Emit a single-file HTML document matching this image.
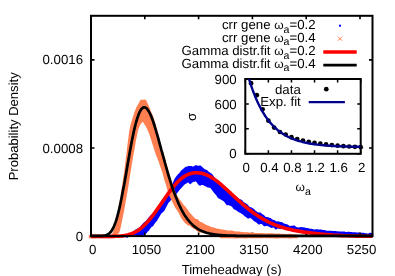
<!DOCTYPE html>
<html><head><meta charset="utf-8"><title>chart</title>
<style>html,body{margin:0;padding:0;background:#fff;overflow:hidden}svg{font-family:"Liberation Sans",sans-serif;will-change:transform}text{text-rendering:geometricPrecision}</style></head>
<body>
<svg width="395" height="276" viewBox="0 0 395 276" style="display:block" font-family="'Liberation Sans', sans-serif" font-size="13.25">
<rect width="395" height="276" fill="#fff"/>
<path d="M122.0,234.7 L122.8,235.2 L123.6,235.5 L124.4,235.3 L125.2,234.8 L126.0,234.5 L126.8,234.7 L127.6,234.9 L128.4,234.5 L129.2,233.7 L130.0,233.3 L130.8,233.3 L131.6,232.9 L132.4,232.4 L133.2,231.3 L134.0,230.7 L134.8,230.3 L135.6,229.6 L136.4,229.3 L137.2,228.8 L138.0,228.3 L138.8,227.7 L139.6,227.2 L140.4,226.3 L141.2,225.5 L142.0,224.4 L142.8,223.5 L143.6,222.8 L144.4,222.0 L145.2,221.4 L146.0,220.7 L146.8,219.9 L147.6,218.8 L148.4,217.8 L149.2,216.7 L150.0,216.0 L150.8,215.0 L151.6,214.6 L152.4,214.1 L153.2,212.8 L154.0,211.8 L154.8,210.3 L155.6,209.3 L156.4,208.6 L157.2,207.2 L158.0,206.1 L158.8,204.9 L159.6,204.1 L160.4,203.3 L161.2,202.2 L162.0,200.9 L162.8,199.6 L163.6,198.4 L164.4,197.4 L165.2,196.7 L166.0,196.2 L166.8,195.4 L167.6,194.1 L168.4,192.7 L169.2,190.9 L170.0,189.2 L170.8,187.6 L171.6,185.8 L172.4,184.0 L173.2,182.0 L174.0,180.1 L174.8,178.6 L175.6,177.3 L176.4,176.2 L177.2,175.2 L178.0,174.3 L178.8,173.6 L179.6,172.7 L180.4,171.6 L181.2,170.6 L182.0,169.7 L182.8,169.3 L183.6,168.6 L184.4,167.8 L185.2,167.2 L186.0,166.8 L186.8,166.5 L187.6,166.4 L188.4,166.1 L189.2,166.0 L190.0,166.1 L190.8,166.0 L191.6,166.1 L192.4,166.4 L193.2,166.4 L194.0,166.2 L194.8,165.6 L195.6,165.2 L196.4,165.3 L197.2,165.6 L198.0,165.8 L198.8,165.7 L199.6,165.6 L200.4,165.5 L201.2,166.0 L202.0,166.7 L202.8,167.4 L203.6,168.3 L204.4,169.0 L205.2,169.3 L206.0,169.7 L206.8,170.1 L207.6,170.6 L208.4,171.5 L209.2,171.9 L210.0,172.5 L210.8,173.2 L211.6,173.6 L212.4,174.4 L213.2,175.6 L214.0,176.7 L214.8,177.8 L215.6,179.0 L216.4,179.7 L217.2,180.5 L218.0,181.0 L218.8,181.3 L219.6,182.0 L220.4,182.6 L221.2,183.5 L222.0,184.4 L222.8,185.2 L223.6,186.0 L224.4,186.7 L225.2,187.7 L226.0,188.4 L226.8,189.1 L227.6,190.0 L228.4,190.7 L229.2,191.3 L230.0,191.9 L230.8,192.0 L231.6,192.4 L232.4,193.1 L233.2,193.8 L234.0,195.0 L234.8,195.8 L235.6,195.9 L236.4,196.5 L237.2,197.3 L238.0,197.9 L238.8,198.8 L239.6,199.1 L240.4,199.3 L241.2,199.7 L242.0,199.9 L242.8,200.9 L243.6,201.9 L244.4,202.5 L245.2,203.0 L246.0,203.3 L246.8,203.9 L247.6,204.5 L248.4,205.4 L249.2,206.4 L250.0,207.0 L250.8,207.2 L251.6,207.5 L252.4,207.9 L253.2,208.6 L254.0,208.9 L254.8,209.7 L255.6,210.7 L256.4,211.3 L257.2,212.0 L258.0,212.3 L258.8,212.4 L259.6,212.6 L260.4,212.6 L261.2,213.0 L262.0,213.9 L262.8,214.4 L263.6,214.8 L264.4,215.4 L265.2,216.4 L266.0,216.9 L266.8,216.9 L267.6,217.2 L268.4,217.3 L269.2,217.7 L270.0,218.0 L270.8,218.1 L271.6,218.9 L272.4,219.6 L273.2,219.8 L274.0,220.0 L274.8,220.2 L275.6,220.9 L276.4,221.5 L277.2,221.5 L278.0,221.3 L278.8,221.4 L279.6,221.8 L280.4,222.0 L281.2,222.0 L282.0,222.0 L282.8,222.7 L283.6,223.3 L284.4,223.6 L285.2,223.9 L286.0,223.9 L286.8,224.2 L287.6,224.5 L288.4,225.0 L289.2,225.7 L290.0,225.9 L290.8,225.8 L291.6,225.7 L292.4,225.7 L293.2,225.5 L294.0,225.4 L294.8,225.6 L295.6,226.4 L296.4,226.9 L297.2,227.3 L298.0,227.5 L298.8,227.3 L299.6,227.6 L300.4,227.0 L301.2,227.0 L302.0,227.2 L302.8,227.2 L303.6,227.3 L304.4,227.4 L305.2,227.6 L306.0,227.9 L306.8,228.0 L307.6,228.0 L308.4,228.2 L309.2,228.5 L310.0,228.7 L310.8,228.8 L311.6,228.8 L312.4,229.0 L313.2,229.2 L314.0,229.4 L314.8,229.5 L315.6,229.3 L316.4,229.3 L317.2,229.3 L318.0,229.5 L318.8,229.6 L319.6,229.6 L320.4,229.5 L321.2,229.6 L322.0,229.8 L322.8,229.9 L323.6,230.0 L324.4,230.1 L325.2,230.3 L326.0,230.5 L326.8,230.7 L327.6,230.8 L328.4,230.8 L329.2,230.7 L330.0,230.7 L330.8,230.7 L331.6,230.8 L332.4,231.0 L333.2,231.0 L334.0,230.9 L334.8,230.9 L335.6,230.9 L336.4,231.2 L337.2,231.2 L338.0,231.3 L338.8,231.5 L339.6,231.5 L340.4,231.6 L341.2,231.5 L342.0,231.5 L342.8,231.5 L343.6,231.5 L344.4,231.6 L345.2,231.7 L346.0,231.9 L346.8,232.0 L347.6,231.7 L348.4,231.7 L349.2,231.8 L350.0,231.9 L350.8,232.1 L351.6,232.0 L352.4,232.2 L353.2,232.2 L354.0,232.2 L354.8,232.2 L355.6,232.2 L356.4,232.4 L357.2,232.5 L358.0,232.5 L358.8,232.5 L359.6,232.5 L360.4,232.7 L361.2,232.8 L362.0,232.8 L362.8,232.8 L363.6,232.8 L364.4,232.9 L365.2,233.1 L366.0,233.2 L366.8,233.4 L367.6,233.4 L368.4,233.4 L369.2,233.1 L370.0,232.8 L370.8,232.8 L371.6,232.9 L372.4,233.0 L373.2,233.1 L373.2,236.3 L372.4,236.3 L371.6,236.3 L370.8,236.4 L370.0,236.4 L369.2,236.4 L368.4,236.5 L367.6,236.6 L366.8,236.5 L366.0,236.5 L365.2,236.4 L364.4,236.4 L363.6,236.4 L362.8,236.3 L362.0,236.2 L361.2,236.2 L360.4,236.1 L359.6,236.2 L358.8,236.3 L358.0,236.3 L357.2,236.3 L356.4,236.2 L355.6,236.0 L354.8,235.8 L354.0,235.8 L353.2,235.9 L352.4,235.9 L351.6,236.0 L350.8,236.0 L350.0,236.1 L349.2,236.1 L348.4,236.2 L347.6,236.3 L346.8,236.2 L346.0,236.1 L345.2,236.0 L344.4,236.1 L343.6,236.1 L342.8,236.1 L342.0,236.1 L341.2,236.0 L340.4,235.9 L339.6,235.9 L338.8,236.0 L338.0,236.0 L337.2,235.9 L336.4,235.8 L335.6,235.8 L334.8,235.9 L334.0,235.8 L333.2,235.7 L332.4,235.6 L331.6,235.6 L330.8,235.5 L330.0,235.7 L329.2,235.5 L328.4,235.5 L327.6,235.4 L326.8,235.4 L326.0,235.4 L325.2,235.4 L324.4,235.2 L323.6,235.1 L322.8,234.9 L322.0,234.8 L321.2,234.8 L320.4,234.9 L319.6,234.9 L318.8,234.8 L318.0,234.7 L317.2,234.7 L316.4,234.7 L315.6,234.8 L314.8,234.8 L314.0,234.7 L313.2,234.5 L312.4,234.3 L311.6,234.2 L310.8,234.2 L310.0,234.3 L309.2,234.2 L308.4,234.0 L307.6,233.7 L306.8,233.4 L306.0,233.3 L305.2,233.2 L304.4,233.2 L303.6,233.2 L302.8,233.3 L302.0,233.2 L301.2,233.0 L300.4,232.8 L299.6,232.5 L298.8,232.4 L298.0,232.3 L297.2,232.2 L296.4,232.1 L295.6,231.9 L294.8,231.7 L294.0,231.6 L293.2,231.6 L292.4,231.6 L291.6,231.3 L290.8,231.0 L290.0,230.5 L289.2,229.9 L288.4,229.9 L287.6,230.0 L286.8,229.6 L286.0,229.7 L285.2,229.5 L284.4,229.0 L283.6,228.1 L282.8,227.6 L282.0,227.9 L281.2,228.5 L280.4,229.2 L279.6,229.0 L278.8,228.7 L278.0,228.6 L277.2,228.8 L276.4,229.6 L275.6,229.4 L274.8,228.7 L274.0,227.7 L273.2,227.4 L272.4,227.8 L271.6,227.9 L270.8,227.8 L270.0,227.2 L269.2,226.8 L268.4,226.5 L267.6,226.1 L266.8,225.9 L266.0,225.9 L265.2,226.3 L264.4,226.3 L263.6,226.0 L262.8,225.1 L262.0,224.3 L261.2,223.9 L260.4,224.0 L259.6,224.4 L258.8,224.4 L258.0,224.2 L257.2,223.3 L256.4,222.4 L255.6,222.1 L254.8,221.7 L254.0,221.0 L253.2,220.6 L252.4,219.5 L251.6,219.0 L250.8,218.3 L250.0,217.8 L249.2,218.6 L248.4,218.6 L247.6,218.4 L246.8,217.8 L246.0,217.1 L245.2,216.8 L244.4,216.1 L243.6,215.2 L242.8,214.6 L242.0,213.9 L241.2,213.5 L240.4,212.9 L239.6,212.4 L238.8,212.2 L238.0,211.7 L237.2,211.0 L236.4,210.4 L235.6,209.9 L234.8,209.5 L234.0,209.4 L233.2,208.5 L232.4,207.2 L231.6,206.6 L230.8,205.9 L230.0,205.7 L229.2,205.5 L228.4,205.0 L227.6,205.2 L226.8,205.2 L226.0,204.2 L225.2,203.3 L224.4,201.9 L223.6,201.2 L222.8,200.7 L222.0,200.2 L221.2,199.8 L220.4,199.2 L219.6,199.1 L218.8,198.4 L218.0,197.9 L217.2,196.9 L216.4,195.6 L215.6,194.6 L214.8,193.7 L214.0,192.8 L213.2,191.8 L212.4,190.8 L211.6,189.6 L210.8,188.4 L210.0,187.8 L209.2,187.7 L208.4,187.6 L207.6,187.6 L206.8,187.0 L206.0,186.5 L205.2,186.2 L204.4,185.9 L203.6,185.3 L202.8,185.0 L202.0,184.9 L201.2,185.0 L200.4,185.7 L199.6,185.6 L198.8,185.3 L198.0,184.2 L197.2,182.9 L196.4,181.9 L195.6,181.3 L194.8,181.7 L194.0,181.7 L193.2,182.1 L192.4,182.4 L191.6,183.1 L190.8,184.2 L190.0,184.1 L189.2,183.4 L188.4,182.8 L187.6,182.6 L186.8,183.3 L186.0,183.8 L185.2,184.0 L184.4,184.7 L183.6,185.6 L182.8,186.6 L182.0,187.3 L181.2,188.3 L180.4,189.1 L179.6,190.0 L178.8,191.1 L178.0,192.1 L177.2,193.1 L176.4,194.1 L175.6,194.9 L174.8,195.7 L174.0,196.9 L173.2,197.7 L172.4,198.6 L171.6,199.6 L170.8,200.3 L170.0,201.4 L169.2,202.0 L168.4,203.0 L167.6,204.4 L166.8,206.0 L166.0,207.6 L165.2,209.3 L164.4,210.7 L163.6,211.6 L162.8,212.5 L162.0,212.8 L161.2,213.8 L160.4,215.0 L159.6,216.4 L158.8,217.8 L158.0,218.9 L157.2,220.5 L156.4,221.5 L155.6,222.3 L154.8,223.4 L154.0,224.4 L153.2,225.9 L152.4,226.4 L151.6,226.9 L150.8,227.8 L150.0,229.0 L149.2,230.3 L148.4,231.1 L147.6,231.8 L146.8,233.0 L146.0,233.7 L145.2,234.3 L144.4,234.6 L143.6,235.0 L142.8,235.9 L142.0,236.5 L141.2,236.6 L140.4,236.5 L139.6,236.5 L138.8,236.4 L138.0,236.3 L137.2,235.9 L136.4,235.3 L135.6,235.2 L134.8,235.1 L134.0,235.3 L133.2,235.7 L132.4,235.9 L131.6,236.4 L130.8,236.2 L130.0,236.4 L129.2,236.5 L128.4,237.0 L127.6,237.7 L126.8,237.5 L126.0,237.5 L125.2,237.1 L124.4,236.9 L123.6,237.2 L122.8,237.5 L122.0,237.6Z" fill="#0000ff"/>
<path d="M91.00,236.1 v-3.5 M91.00,15.8 v3.5 M144.80,236.1 v-3.5 M144.80,15.8 v3.5 M198.60,236.1 v-3.5 M198.60,15.8 v3.5 M252.40,236.1 v-3.5 M252.40,15.8 v3.5 M306.20,236.1 v-3.5 M306.20,15.8 v3.5 M360.00,236.1 v-3.5 M360.00,15.8 v3.5 M91.0,148.00 h3.5 M372.5,148.00 h-3.5 M91.0,59.90 h3.5 M372.5,59.90 h-3.5" stroke="#000" stroke-width="1.6" fill="none"/>
<path d="M88.8,234.9 L89.6,235.0 L90.4,235.0 L91.2,235.1 L92.0,235.1 L92.8,235.0 L93.6,235.0 L94.4,234.8 L95.2,234.8 L96.0,234.9 L96.8,235.1 L97.6,235.3 L98.4,235.3 L99.2,235.2 L100.0,235.1 L100.8,235.0 L101.6,235.1 L102.4,235.1 L103.2,235.1 L104.0,235.0 L104.8,235.0 L105.6,235.1 L106.4,235.1 L107.2,235.1 L108.0,235.0 L108.8,235.0 L109.6,235.0 L110.4,235.0 L111.2,234.9 L112.0,234.2 L112.8,232.4 L113.6,230.7 L114.4,228.8 L115.2,226.2 L116.0,223.0 L116.8,219.2 L117.6,214.2 L118.4,208.8 L119.2,203.7 L120.0,198.9 L120.8,194.0 L121.6,188.8 L122.4,183.4 L123.2,178.0 L124.0,172.7 L124.8,166.7 L125.6,160.3 L126.4,153.9 L127.2,147.0 L128.0,140.4 L128.8,134.2 L129.6,129.1 L130.4,125.3 L131.2,122.5 L132.0,119.9 L132.8,117.5 L133.6,114.9 L134.4,112.3 L135.2,110.5 L136.0,108.0 L136.8,106.6 L137.6,105.2 L138.4,103.8 L139.2,102.4 L140.0,100.5 L140.8,99.8 L141.6,99.7 L142.4,99.7 L143.2,99.8 L144.0,99.6 L144.8,99.5 L145.6,99.7 L146.4,100.6 L147.2,102.7 L148.0,104.3 L148.8,106.0 L149.6,107.7 L150.4,109.9 L151.2,111.9 L152.0,113.7 L152.8,115.4 L153.6,117.5 L154.4,120.2 L155.2,122.7 L156.0,125.7 L156.8,129.0 L157.6,132.0 L158.4,135.2 L159.2,138.4 L160.0,141.7 L160.8,144.8 L161.6,147.9 L162.4,150.4 L163.2,152.7 L164.0,155.4 L164.8,157.9 L165.6,160.9 L166.4,163.7 L167.2,166.1 L168.0,168.9 L168.8,171.6 L169.6,174.5 L170.4,177.7 L171.2,180.6 L172.0,183.1 L172.8,185.3 L173.6,187.1 L174.4,189.1 L175.2,191.4 L176.0,193.8 L176.8,195.3 L177.6,196.8 L178.4,197.6 L179.2,198.9 L180.0,199.9 L180.8,200.7 L181.6,202.1 L182.4,203.0 L183.2,204.2 L184.0,205.3 L184.8,206.0 L185.6,206.7 L186.4,208.0 L187.2,208.9 L188.0,210.3 L188.8,211.6 L189.6,212.5 L190.4,213.5 L191.2,214.3 L192.0,215.0 L192.8,216.0 L193.6,217.0 L194.4,217.8 L195.2,218.5 L196.0,218.9 L196.8,219.1 L197.6,219.3 L198.4,219.8 L199.2,220.9 L200.0,221.8 L200.8,221.9 L201.6,222.2 L202.4,222.6 L203.2,223.1 L204.0,223.7 L204.8,224.1 L205.6,224.6 L206.4,224.9 L207.2,225.2 L208.0,225.4 L208.8,225.7 L209.6,226.2 L210.4,226.6 L211.2,227.0 L212.0,227.2 L212.8,227.3 L213.6,227.5 L214.4,227.7 L215.2,227.9 L216.0,228.2 L216.8,228.4 L217.6,228.7 L218.4,228.8 L219.2,229.0 L220.0,229.2 L220.8,229.3 L221.6,229.4 L222.4,229.4 L223.2,229.6 L224.0,229.8 L224.8,229.9 L225.6,230.0 L226.4,230.2 L227.2,230.4 L228.0,230.5 L228.8,230.6 L229.6,230.6 L230.4,230.6 L231.2,230.5 L232.0,230.6 L232.8,230.8 L233.6,231.1 L234.4,231.3 L235.2,231.3 L236.0,231.5 L236.8,231.5 L237.6,231.6 L238.4,231.5 L239.2,231.6 L240.0,231.7 L240.8,231.8 L241.6,232.0 L242.4,232.0 L243.2,232.1 L244.0,232.2 L244.8,232.2 L245.6,232.3 L246.4,232.2 L247.2,232.3 L248.0,232.3 L248.8,232.4 L249.6,232.4 L250.4,232.5 L251.2,232.5 L252.0,232.5 L252.8,232.6 L253.6,232.7 L254.4,232.8 L255.2,232.9 L256.0,232.9 L256.8,232.9 L257.6,232.9 L258.4,232.9 L259.2,232.9 L260.0,233.0 L260.8,233.1 L261.6,233.1 L262.4,233.1 L263.2,233.2 L264.0,233.2 L264.8,233.3 L265.6,233.5 L266.4,233.4 L267.2,233.3 L268.0,233.2 L268.8,233.2 L269.6,233.2 L270.4,233.3 L271.2,233.3 L272.0,233.3 L272.8,233.3 L273.6,233.4 L274.4,233.6 L275.2,233.6 L276.0,233.5 L276.8,233.4 L277.6,233.5 L278.4,233.5 L279.2,233.6 L280.0,233.7 L280.8,233.8 L281.6,233.9 L282.4,233.8 L283.2,233.8 L284.0,233.8 L284.8,233.9 L285.6,234.1 L286.4,234.1 L287.2,234.0 L288.0,233.9 L288.8,233.8 L289.6,233.8 L290.4,233.7 L291.2,233.9 L292.0,234.2 L292.8,234.3 L293.6,234.4 L294.4,234.4 L295.2,234.5 L296.0,234.7 L296.8,234.8 L297.6,234.9 L297.6,238.4 L296.8,238.2 L296.0,238.2 L295.2,238.2 L294.4,238.2 L293.6,238.2 L292.8,238.2 L292.0,238.3 L291.2,238.4 L290.4,238.5 L289.6,238.4 L288.8,238.4 L288.0,238.3 L287.2,238.2 L286.4,238.2 L285.6,238.2 L284.8,238.2 L284.0,238.2 L283.2,238.2 L282.4,238.2 L281.6,238.2 L280.8,238.2 L280.0,238.2 L279.2,238.2 L278.4,238.3 L277.6,238.4 L276.8,238.5 L276.0,238.5 L275.2,238.4 L274.4,238.3 L273.6,238.3 L272.8,238.2 L272.0,238.2 L271.2,238.2 L270.4,238.2 L269.6,238.2 L268.8,238.2 L268.0,238.3 L267.2,238.3 L266.4,238.2 L265.6,238.2 L264.8,238.1 L264.0,238.1 L263.2,238.2 L262.4,238.2 L261.6,238.2 L260.8,238.2 L260.0,238.3 L259.2,238.3 L258.4,238.3 L257.6,238.2 L256.8,238.2 L256.0,238.2 L255.2,238.2 L254.4,238.3 L253.6,238.2 L252.8,238.2 L252.0,238.2 L251.2,238.2 L250.4,238.2 L249.6,238.2 L248.8,238.1 L248.0,238.2 L247.2,238.3 L246.4,238.5 L245.6,238.5 L244.8,238.4 L244.0,238.3 L243.2,238.3 L242.4,238.3 L241.6,238.3 L240.8,238.3 L240.0,238.3 L239.2,238.3 L238.4,238.3 L237.6,238.3 L236.8,238.4 L236.0,238.4 L235.2,238.4 L234.4,238.4 L233.6,238.3 L232.8,238.3 L232.0,238.3 L231.2,238.3 L230.4,238.3 L229.6,238.3 L228.8,238.3 L228.0,238.3 L227.2,238.3 L226.4,238.2 L225.6,238.2 L224.8,238.3 L224.0,238.2 L223.2,238.3 L222.4,238.3 L221.6,238.2 L220.8,238.1 L220.0,237.7 L219.2,237.3 L218.4,236.9 L217.6,236.5 L216.8,236.2 L216.0,235.9 L215.2,235.6 L214.4,235.4 L213.6,235.3 L212.8,235.1 L212.0,235.0 L211.2,234.8 L210.4,234.5 L209.6,234.3 L208.8,234.0 L208.0,233.9 L207.2,233.8 L206.4,233.7 L205.6,233.6 L204.8,233.5 L204.0,233.3 L203.2,233.0 L202.4,232.8 L201.6,232.6 L200.8,232.5 L200.0,232.9 L199.2,232.6 L198.4,232.2 L197.6,231.5 L196.8,231.0 L196.0,230.2 L195.2,229.5 L194.4,228.9 L193.6,228.5 L192.8,228.3 L192.0,227.9 L191.2,226.9 L190.4,226.1 L189.6,225.7 L188.8,225.6 L188.0,225.4 L187.2,224.7 L186.4,224.0 L185.6,223.4 L184.8,222.7 L184.0,221.7 L183.2,220.8 L182.4,219.7 L181.6,218.6 L180.8,217.2 L180.0,215.5 L179.2,213.9 L178.4,212.4 L177.6,211.2 L176.8,209.9 L176.0,208.9 L175.2,207.7 L174.4,206.2 L173.6,204.6 L172.8,202.8 L172.0,201.3 L171.2,199.6 L170.4,197.9 L169.6,196.2 L168.8,194.3 L168.0,192.0 L167.2,189.2 L166.4,186.3 L165.6,183.7 L164.8,181.5 L164.0,178.7 L163.2,175.7 L162.4,172.6 L161.6,170.2 L160.8,167.9 L160.0,165.8 L159.2,163.4 L158.4,161.0 L157.6,159.1 L156.8,157.0 L156.0,155.1 L155.2,152.7 L154.4,150.3 L153.6,147.6 L152.8,145.2 L152.0,142.7 L151.2,140.0 L150.4,137.6 L149.6,135.3 L148.8,133.1 L148.0,131.0 L147.2,129.2 L146.4,127.4 L145.6,126.1 L144.8,125.0 L144.0,123.6 L143.2,122.3 L142.4,122.0 L141.6,123.0 L140.8,124.0 L140.0,125.3 L139.2,127.0 L138.4,129.3 L137.6,132.6 L136.8,136.4 L136.0,140.6 L135.2,145.0 L134.4,149.5 L133.6,153.9 L132.8,158.4 L132.0,163.0 L131.2,168.2 L130.4,173.3 L129.6,178.6 L128.8,183.8 L128.0,188.6 L127.2,193.3 L126.4,197.8 L125.6,202.2 L124.8,206.7 L124.0,211.3 L123.2,215.3 L122.4,219.1 L121.6,223.0 L120.8,226.9 L120.0,230.3 L119.2,232.4 L118.4,233.4 L117.6,234.6 L116.8,235.9 L116.0,237.1 L115.2,237.9 L114.4,238.3 L113.6,238.2 L112.8,238.2 L112.0,238.2 L111.2,238.2 L110.4,238.2 L109.6,238.3 L108.8,238.3 L108.0,238.3 L107.2,238.2 L106.4,238.2 L105.6,238.3 L104.8,238.3 L104.0,238.3 L103.2,238.3 L102.4,238.3 L101.6,238.3 L100.8,238.3 L100.0,238.2 L99.2,238.1 L98.4,238.1 L97.6,238.1 L96.8,238.1 L96.0,238.2 L95.2,238.2 L94.4,238.2 L93.6,238.2 L92.8,238.2 L92.0,238.2 L91.2,238.2 L90.4,238.2 L89.6,238.2 L88.8,238.2Z" fill="#ff7f50"/>
<clipPath id="c"><rect x="88.0" y="15.8" width="285.3" height="223.29999999999998"/></clipPath>
<g clip-path="url(#c)">
<path d="M91.0,236.4 L91.7,236.4 L92.4,236.4 L93.1,236.4 L93.8,236.4 L94.5,236.4 L95.2,236.4 L95.9,236.4 L96.6,236.4 L97.3,236.4 L98.1,236.4 L98.8,236.4 L99.5,236.4 L100.2,236.4 L100.9,236.4 L101.6,236.4 L102.3,236.4 L103.0,236.4 L103.7,236.4 L104.4,236.4 L105.1,236.4 L105.8,236.4 L106.5,236.4 L107.2,236.4 L107.9,236.4 L108.6,236.4 L109.3,236.4 L110.0,236.4 L110.8,236.4 L111.5,236.4 L112.2,236.4 L112.9,236.4 L113.6,236.3 L114.3,236.3 L115.0,236.3 L115.7,236.3 L116.4,236.3 L117.1,236.2 L117.8,236.2 L118.5,236.2 L119.2,236.1 L119.9,236.1 L120.6,236.0 L121.3,236.0 L122.0,235.9 L122.7,235.8 L123.5,235.7 L124.2,235.6 L124.9,235.5 L125.6,235.4 L126.3,235.2 L127.0,235.1 L127.7,234.9 L128.4,234.7 L129.1,234.5 L129.8,234.3 L130.5,234.1 L131.2,233.8 L131.9,233.6 L132.6,233.3 L133.3,233.0 L134.0,232.7 L134.7,232.3 L135.4,231.9 L136.2,231.5 L136.9,231.1 L137.6,230.7 L138.3,230.2 L139.0,229.7 L139.7,229.2 L140.4,228.7 L141.1,228.1 L141.8,227.5 L142.5,226.9 L143.2,226.3 L143.9,225.6 L144.6,224.9 L145.3,224.2 L146.0,223.5 L146.7,222.7 L147.4,222.0 L148.1,221.2 L148.9,220.4 L149.6,219.5 L150.3,218.7 L151.0,217.8 L151.7,216.9 L152.4,216.0 L153.1,215.1 L153.8,214.1 L154.5,213.2 L155.2,212.2 L155.9,211.2 L156.6,210.2 L157.3,209.3 L158.0,208.2 L158.7,207.2 L159.4,206.2 L160.1,205.2 L160.8,204.2 L161.6,203.1 L162.3,202.1 L163.0,201.1 L163.7,200.0 L164.4,199.0 L165.1,198.0 L165.8,197.0 L166.5,196.0 L167.2,195.0 L167.9,194.0 L168.6,193.0 L169.3,192.0 L170.0,191.1 L170.7,190.2 L171.4,189.2 L172.1,188.3 L172.8,187.4 L173.5,186.6 L174.3,185.7 L175.0,184.9 L175.7,184.1 L176.4,183.3 L177.1,182.6 L177.8,181.8 L178.5,181.1 L179.2,180.5 L179.9,179.8 L180.6,179.2 L181.3,178.6 L182.0,178.0 L182.7,177.5 L183.4,177.0 L184.1,176.5 L184.8,176.1 L185.5,175.7 L186.2,175.3 L186.9,174.9 L187.7,174.6 L188.4,174.3 L189.1,174.0 L189.8,173.8 L190.5,173.5 L191.2,173.4 L191.9,173.2 L192.6,173.1 L193.3,172.9 L194.0,172.9 L194.7,172.8 L195.4,172.7 L196.1,172.7 L196.8,172.7 L197.5,172.8 L198.2,172.8 L198.9,172.9 L199.6,173.0 L200.4,173.1 L201.1,173.2 L201.8,173.3 L202.5,173.5 L203.2,173.7 L203.9,173.9 L204.6,174.1 L205.3,174.4 L206.0,174.7 L206.7,175.0 L207.4,175.3 L208.1,175.6 L208.8,175.9 L209.5,176.3 L210.2,176.7 L210.9,177.1 L211.6,177.5 L212.3,178.0 L213.1,178.4 L213.8,178.9 L214.5,179.4 L215.2,179.9 L215.9,180.4 L216.6,180.9 L217.3,181.5 L218.0,182.0 L218.7,182.6 L219.4,183.2 L220.1,183.7 L220.8,184.3 L221.5,184.9 L222.2,185.6 L222.9,186.2 L223.6,186.8 L224.3,187.4 L225.0,188.1 L225.8,188.7 L226.5,189.4 L227.2,190.0 L227.9,190.7 L228.6,191.3 L229.3,192.0 L230.0,192.6 L230.7,193.3 L231.4,194.0 L232.1,194.6 L232.8,195.3 L233.5,195.9 L234.2,196.6 L234.9,197.2 L235.6,197.9 L236.3,198.5 L237.0,199.2 L237.7,199.8 L238.5,200.5 L239.2,201.1 L239.9,201.7 L240.6,202.4 L241.3,203.0 L242.0,203.6 L242.7,204.2 L243.4,204.8 L244.1,205.4 L244.8,206.0 L245.5,206.6 L246.2,207.2 L246.9,207.8 L247.6,208.3 L248.3,208.9 L249.0,209.5 L249.7,210.0 L250.4,210.6 L251.2,211.1 L251.9,211.6 L252.6,212.2 L253.3,212.7 L254.0,213.2 L254.7,213.7 L255.4,214.2 L256.1,214.7 L256.8,215.1 L257.5,215.6 L258.2,216.1 L258.9,216.5 L259.6,217.0 L260.3,217.4 L261.0,217.8 L261.7,218.3 L262.4,218.7 L263.1,219.1 L263.9,219.5 L264.6,219.9 L265.3,220.3 L266.0,220.7 L266.7,221.0 L267.4,221.4 L268.1,221.7 L268.8,222.1 L269.5,222.4 L270.2,222.8 L270.9,223.1 L271.6,223.4 L272.3,223.7 L273.0,224.0 L273.7,224.3 L274.4,224.6 L275.1,224.9 L275.8,225.2 L276.6,225.4 L277.3,225.7 L278.0,225.9 L278.7,226.2 L279.4,226.4 L280.1,226.7 L280.8,226.9 L281.5,227.1 L282.2,227.4 L282.9,227.6 L283.6,227.8 L284.3,228.0 L285.0,228.2 L285.7,228.4 L286.4,228.6 L287.1,228.7 L287.8,228.9 L288.5,229.1 L289.2,229.3 L290.0,229.4 L290.7,229.6 L291.4,229.8 L292.1,229.9 L292.8,230.1 L293.5,230.2 L294.2,230.4 L294.9,230.5 L295.6,230.6 L296.3,230.8 L297.0,230.9 L297.7,231.0 L298.4,231.1 L299.1,231.3 L299.8,231.4 L300.5,231.5 L301.2,231.6 L301.9,231.7 L302.7,231.8 L303.4,232.0 L304.1,232.1 L304.8,232.2 L305.5,232.3 L306.2,232.4 L306.9,232.5 L307.6,232.6 L308.3,232.6 L309.0,232.7 L309.7,232.8 L310.4,232.9 L311.1,233.0 L311.8,233.1 L312.5,233.2 L313.2,233.3 L313.9,233.3 L314.6,233.4 L315.4,233.5 L316.1,233.6 L316.8,233.7 L317.5,233.7 L318.2,233.8 L318.9,233.9 L319.6,234.0 L320.3,234.0 L321.0,234.1 L321.7,234.2 L322.4,234.2 L323.1,234.3 L323.8,234.4 L324.5,234.4 L325.2,234.5 L325.9,234.5 L326.6,234.6 L327.3,234.7 L328.1,234.7 L328.8,234.8 L329.5,234.8 L330.2,234.9 L330.9,234.9 L331.6,235.0 L332.3,235.0 L333.0,235.1 L333.7,235.1 L334.4,235.2 L335.1,235.2 L335.8,235.3 L336.5,235.3 L337.2,235.4 L337.9,235.4 L338.6,235.4 L339.3,235.5 L340.0,235.5 L340.8,235.5 L341.5,235.6 L342.2,235.6 L342.9,235.6 L343.6,235.7 L344.3,235.7 L345.0,235.7 L345.7,235.8 L346.4,235.8 L347.1,235.8 L347.8,235.8 L348.5,235.9 L349.2,235.9 L349.9,235.9 L350.6,235.9 L351.3,235.9 L352.0,236.0 L352.7,236.0 L353.5,236.0 L354.2,236.0 L354.9,236.0 L355.6,236.1 L356.3,236.1 L357.0,236.1 L357.7,236.1 L358.4,236.1 L359.1,236.1 L359.8,236.1 L360.5,236.1 L361.2,236.2 L361.9,236.2 L362.6,236.2 L363.3,236.2 L364.0,236.2 L364.7,236.2 L365.4,236.2 L366.2,236.2 L366.9,236.2 L367.6,236.2 L368.3,236.2 L369.0,236.3 L369.7,236.3 L370.4,236.3 L371.1,236.3 L371.8,236.3 L372.5,236.3" fill="none" stroke="#ff0000" stroke-width="3.6" stroke-linejoin="round"/>
<path d="M91.6,235.9 L92.3,235.9 L93.0,235.9 L93.7,235.9 L94.4,235.9 L95.1,235.9 L95.8,235.9 L96.5,235.9 L97.2,235.9 L97.9,235.9 L98.7,235.9 L99.4,235.9 L100.1,235.9 L100.8,235.9 L101.5,235.9 L102.2,235.8 L102.9,235.8 L103.6,235.7 L104.3,235.6 L105.0,235.5 L105.7,235.3 L106.4,235.1 L107.1,234.8 L107.8,234.4 L108.5,234.0 L109.2,233.4 L109.9,232.8 L110.6,232.0 L111.4,231.1 L112.1,230.0 L112.8,228.8 L113.5,227.4 L114.2,225.8 L114.9,224.0 L115.6,222.1 L116.3,220.0 L117.0,217.6 L117.7,215.1 L118.4,212.4 L119.1,209.5 L119.8,206.4 L120.5,203.2 L121.2,199.8 L121.9,196.3 L122.6,192.6 L123.3,188.8 L124.1,185.0 L124.8,181.0 L125.5,177.0 L126.2,172.9 L126.9,168.8 L127.6,164.8 L128.3,160.7 L129.0,156.7 L129.7,152.7 L130.4,148.8 L131.1,145.0 L131.8,141.3 L132.5,137.8 L133.2,134.4 L133.9,131.1 L134.6,128.1 L135.3,125.2 L136.0,122.5 L136.8,120.0 L137.5,117.7 L138.2,115.7 L138.9,113.8 L139.6,112.2 L140.3,110.8 L141.0,109.7 L141.7,108.8 L142.4,108.1 L143.1,107.6 L143.8,107.3 L144.5,107.3 L145.2,107.5 L145.9,107.9 L146.6,108.4 L147.3,109.2 L148.0,110.2 L148.7,111.3 L149.5,112.6 L150.2,114.0 L150.9,115.6 L151.6,117.3 L152.3,119.2 L153.0,121.1 L153.7,123.2 L154.4,125.3 L155.1,127.6 L155.8,129.9 L156.5,132.3 L157.2,134.7 L157.9,137.2 L158.6,139.7 L159.3,142.3 L160.0,144.9 L160.7,147.4 L161.4,150.1 L162.2,152.7 L162.9,155.3 L163.6,157.9 L164.3,160.4 L165.0,163.0 L165.7,165.5 L166.4,168.0 L167.1,170.5 L167.8,172.9 L168.5,175.3 L169.2,177.6 L169.9,179.9 L170.6,182.1 L171.3,184.3 L172.0,186.5 L172.7,188.5 L173.4,190.6 L174.1,192.5 L174.9,194.4 L175.6,196.3 L176.3,198.1 L177.0,199.8 L177.7,201.5 L178.4,203.1 L179.1,204.7 L179.8,206.2 L180.5,207.6 L181.2,209.0 L181.9,210.4 L182.6,211.7 L183.3,212.9 L184.0,214.1 L184.7,215.2 L185.4,216.3 L186.1,217.3 L186.8,218.3 L187.5,219.3 L188.3,220.2 L189.0,221.0 L189.7,221.9 L190.4,222.6 L191.1,223.4 L191.8,224.1 L192.5,224.8 L193.2,225.4 L193.9,226.0 L194.6,226.6 L195.3,227.1 L196.0,227.7 L196.7,228.2 L197.4,228.6 L198.1,229.1 L198.8,229.5 L199.5,229.9 L200.2,230.2 L201.0,230.6 L201.7,230.9 L202.4,231.2 L203.1,231.5 L203.8,231.8 L204.5,232.1 L205.2,232.3 L205.9,232.5 L206.6,232.8 L207.3,233.0 L208.0,233.1 L208.7,233.3 L209.4,233.5 L210.1,233.7 L210.8,233.8 L211.5,233.9 L212.2,234.1 L212.9,234.2 L213.7,234.3 L214.4,234.4 L215.1,234.5 L215.8,234.6 L216.5,234.7 L217.2,234.8 L217.9,234.9 L218.6,234.9 L219.3,235.0 L220.0,235.1 L220.7,235.1 L221.4,235.2 L222.1,235.2 L222.8,235.3 L223.5,235.3 L224.2,235.4 L224.9,235.4 L225.6,235.4 L226.4,235.5 L227.1,235.5 L227.8,235.5 L228.5,235.6 L229.2,235.6 L229.9,235.6 L230.6,235.6 L231.3,235.6 L232.0,235.7 L232.7,235.7 L233.4,235.7 L234.1,235.7 L234.8,235.7 L235.5,235.7 L236.2,235.8 L236.9,235.8 L237.6,235.8 L238.3,235.8 L239.1,235.8 L239.8,235.8 L240.5,235.8 L241.2,235.8 L241.9,235.8 L242.6,235.8 L243.3,235.8 L244.0,235.8 L244.7,235.8 L245.4,235.8 L246.1,235.9 L246.8,235.9 L247.5,235.9 L248.2,235.9 L248.9,235.9 L249.6,235.9 L250.3,235.9 L251.0,235.9 L251.8,235.9 L252.5,235.9 L253.2,235.9 L253.9,235.9 L254.6,235.9 L255.3,235.9 L256.0,235.9 L256.7,235.9 L257.4,235.9 L258.1,235.9 L258.8,235.9 L259.5,235.9 L260.2,235.9 L260.9,235.9 L261.6,235.9 L262.3,235.9 L263.0,235.9 L263.7,235.9 L264.5,235.9 L265.2,235.9 L265.9,235.9 L266.6,235.9 L267.3,235.9 L268.0,235.9 L268.7,235.9 L269.4,235.9 L270.1,235.9 L270.8,235.9 L271.5,235.9 L272.2,235.9 L272.9,235.9 L273.6,235.9 L274.3,235.9 L275.0,235.9 L275.7,235.9 L276.4,235.9 L277.2,235.9 L277.9,235.9 L278.6,235.9 L279.3,235.9 L280.0,235.9 L280.7,235.9 L281.4,235.9 L282.1,235.9 L282.8,235.9 L283.5,235.9 L284.2,235.9 L284.9,235.9 L285.6,235.9 L286.3,235.9 L287.0,235.9 L287.7,235.9 L288.4,235.9 L289.1,235.9 L289.8,235.9 L290.6,235.9 L291.3,235.9 L292.0,235.9 L292.7,235.9 L293.4,235.9 L294.1,235.9 L294.8,235.9 L295.5,235.9 L296.2,235.9 L296.9,235.9 L297.6,235.9 L298.3,235.9 L299.0,235.9 L299.7,235.9 L300.4,235.9 L301.1,235.9 L301.8,235.9 L302.5,235.9 L303.3,235.9 L304.0,235.9 L304.7,235.9 L305.4,235.9 L306.1,235.9 L306.8,235.9 L307.5,235.9 L308.2,235.9 L308.9,235.9 L309.6,235.9 L310.3,235.9 L311.0,235.9 L311.7,235.9 L312.4,235.9 L313.1,235.9 L313.8,235.9 L314.5,235.9 L315.2,235.9 L316.0,235.9 L316.7,235.9 L317.4,235.9 L318.1,235.9 L318.8,235.9 L319.5,235.9 L320.2,235.9 L320.9,235.9 L321.6,235.9 L322.3,235.9 L323.0,235.9 L323.7,235.9 L324.4,235.9 L325.1,235.9 L325.8,235.9 L326.5,235.9 L327.2,235.9 L327.9,235.9 L328.7,235.9 L329.4,235.9 L330.1,235.9 L330.8,235.9 L331.5,235.9 L332.2,235.9 L332.9,235.9 L333.6,235.9 L334.3,235.9 L335.0,235.9 L335.7,235.9 L336.4,235.9 L337.1,235.9 L337.8,235.9 L338.5,235.9 L339.2,235.9 L339.9,235.9 L340.6,235.9 L341.4,235.9 L342.1,235.9 L342.8,235.9 L343.5,235.9 L344.2,235.9 L344.9,235.9 L345.6,235.9 L346.3,235.9 L347.0,235.9 L347.7,235.9 L348.4,235.9 L349.1,235.9 L349.8,235.9 L350.5,235.9 L351.2,235.9 L351.9,235.9 L352.6,235.9 L353.3,235.9 L354.1,235.9 L354.8,235.9 L355.5,235.9 L356.2,235.9 L356.9,235.9 L357.6,235.9 L358.3,235.9 L359.0,235.9 L359.7,235.9 L360.4,235.9 L361.1,235.9 L361.8,235.9 L362.5,235.9 L363.2,235.9 L363.9,235.9 L364.6,235.9 L365.3,235.9 L366.0,235.9 L366.8,235.9 L367.5,235.9 L368.2,235.9 L368.9,235.9 L369.6,235.9 L370.3,235.9 L371.0,235.9 L371.7,235.9 L372.4,235.9 L373.1,235.9" fill="none" stroke="#000" stroke-width="2.7" stroke-linejoin="round"/>
</g>
<rect x="91.0" y="15.8" width="281.5" height="220.29999999999998" fill="none" stroke="#000" stroke-width="2.0"/>
<rect x="339" y="24.7" width="2" height="2" fill="#0000ff"/>
<path d="M338,36.7 l4,4 m0,-4 l-4,4" stroke="#ff7f50" stroke-width="1.0" fill="none"/>
<path d="M323.3,51.95 H356.7" stroke="#ff0000" stroke-width="3.6"/>
<path d="M323.3,65.2 H356.7" stroke="#000" stroke-width="2.7"/>
<rect x="245.3" y="79.0" width="115.39999999999998" height="74.80000000000001" fill="#fff" stroke="#000" stroke-width="2.0"/>
<path d="M245.30,153.8 v-3.5 M245.30,79.0 v3.5 M268.38,153.8 v-3.5 M268.38,79.0 v3.5 M291.46,153.8 v-3.5 M291.46,79.0 v3.5 M314.54,153.8 v-3.5 M314.54,79.0 v3.5 M337.62,153.8 v-3.5 M337.62,79.0 v3.5 M360.70,153.8 v-3.5 M360.70,79.0 v3.5 M245.3,153.80 h3.5 M360.7,153.80 h-3.5 M245.3,128.87 h3.5 M360.7,128.87 h-3.5 M245.3,103.93 h3.5 M360.7,103.93 h-3.5 M245.3,79.00 h3.5 M360.7,79.00 h-3.5" stroke="#000" stroke-width="1.5" fill="none"/>
<circle cx="251.07" cy="83.16" r="2.35" fill="#000"/>
<circle cx="256.84" cy="95.21" r="2.35" fill="#000"/>
<circle cx="262.61" cy="109.34" r="2.35" fill="#000"/>
<circle cx="268.38" cy="120.72" r="2.35" fill="#000"/>
<circle cx="274.15" cy="127.62" r="2.35" fill="#000"/>
<circle cx="279.92" cy="132.02" r="2.35" fill="#000"/>
<circle cx="285.69" cy="134.52" r="2.35" fill="#000"/>
<circle cx="291.46" cy="137.18" r="2.35" fill="#000"/>
<circle cx="297.23" cy="139.01" r="2.35" fill="#000"/>
<circle cx="303.00" cy="140.50" r="2.35" fill="#000"/>
<circle cx="308.77" cy="141.75" r="2.35" fill="#000"/>
<circle cx="314.54" cy="142.75" r="2.35" fill="#000"/>
<circle cx="320.31" cy="143.66" r="2.35" fill="#000"/>
<circle cx="326.08" cy="144.41" r="2.35" fill="#000"/>
<circle cx="331.85" cy="145.07" r="2.35" fill="#000"/>
<circle cx="337.62" cy="145.66" r="2.35" fill="#000"/>
<circle cx="343.39" cy="146.15" r="2.35" fill="#000"/>
<circle cx="349.16" cy="146.49" r="2.35" fill="#000"/>
<circle cx="354.93" cy="146.82" r="2.35" fill="#000"/>
<circle cx="360.70" cy="147.15" r="2.35" fill="#000"/>
<clipPath id="ci"><rect x="245.3" y="79.0" width="115.39999999999998" height="74.80000000000001"/></clipPath>
<path clip-path="url(#ci)" d="M248.2,76.3 L249.3,80.0 L250.5,83.6 L251.6,87.0 L252.7,90.2 L253.9,93.2 L255.0,96.1 L256.1,98.8 L257.3,101.4 L258.4,103.8 L259.6,106.1 L260.7,108.3 L261.8,110.4 L263.0,112.3 L264.1,114.2 L265.2,116.0 L266.4,117.6 L267.5,119.2 L268.6,120.7 L269.8,122.1 L270.9,123.4 L272.1,124.7 L273.2,125.9 L274.3,127.0 L275.5,128.1 L276.6,129.1 L277.7,130.1 L278.9,131.0 L280.0,131.8 L281.1,132.6 L282.3,133.4 L283.4,134.2 L284.6,134.8 L285.7,135.5 L286.8,136.1 L288.0,136.7 L289.1,137.3 L290.2,137.8 L291.4,138.3 L292.5,138.8 L293.6,139.2 L294.8,139.6 L295.9,140.0 L297.1,140.4 L298.2,140.8 L299.3,141.1 L300.5,141.4 L301.6,141.7 L302.7,142.0 L303.9,142.3 L305.0,142.6 L306.1,142.8 L307.3,143.0 L308.4,143.3 L309.6,143.5 L310.7,143.7 L311.8,143.8 L313.0,144.0 L314.1,144.2 L315.2,144.3 L316.4,144.5 L317.5,144.6 L318.6,144.8 L319.8,144.9 L320.9,145.0 L322.1,145.1 L323.2,145.2 L324.3,145.3 L325.5,145.4 L326.6,145.5 L327.7,145.6 L328.9,145.7 L330.0,145.8 L331.2,145.8 L332.3,145.9 L333.4,146.0 L334.6,146.0 L335.7,146.1 L336.8,146.2 L338.0,146.2 L339.1,146.3 L340.2,146.3 L341.4,146.4 L342.5,146.4 L343.7,146.4 L344.8,146.5 L345.9,146.5 L347.1,146.5 L348.2,146.6 L349.3,146.6 L350.5,146.6 L351.6,146.7 L352.7,146.7 L353.9,146.7 L355.0,146.7 L356.2,146.8 L357.3,146.8 L358.4,146.8 L359.6,146.8 L360.7,146.8" fill="none" stroke="#00008b" stroke-width="2.4"/>
<circle cx="326.3" cy="89.2" r="2.35" fill="#000"/>
<path d="M308.7,102.1 H344.9" stroke="#00008b" stroke-width="2.4"/>
<g style="filter:grayscale(1)" text-rendering="geometricPrecision">
<text x="92.60" y="253.8" text-anchor="middle">0</text>
<text x="146.40" y="253.8" text-anchor="middle">1050</text>
<text x="200.20" y="253.8" text-anchor="middle">2100</text>
<text x="254.00" y="253.8" text-anchor="middle">3150</text>
<text x="307.80" y="253.8" text-anchor="middle">4200</text>
<text x="361.60" y="253.8" text-anchor="middle">5250</text>
<text x="83.0" y="240.60" text-anchor="end">0</text>
<text x="83.0" y="152.50" text-anchor="end">0.0008</text>
<text x="83.0" y="64.40" text-anchor="end">0.0016</text>
<text x="231.6" y="273.7" font-size="13.1" text-anchor="middle">Timeheadway (s)</text>
<text transform="translate(18.2,126.35) rotate(-90)" font-size="13.05" text-anchor="middle">Probability Density</text>
<text x="315.7" y="28.9" text-anchor="end">crr gene <tspan font-size="12">ω</tspan><tspan dy="3.7" font-size="10.6">a</tspan><tspan dy="-3.7">=0.2</tspan></text>
<text x="315.7" y="41.5" text-anchor="end">crr gene <tspan font-size="12">ω</tspan><tspan dy="3.7" font-size="10.6">a</tspan><tspan dy="-3.7">=0.4</tspan></text>
<text x="315.7" y="54.8" text-anchor="end">Gamma distr.fit <tspan font-size="12">ω</tspan><tspan dy="3.7" font-size="10.6">a</tspan><tspan dy="-3.7">=0.2</tspan></text>
<text x="315.7" y="67.6" text-anchor="end">Gamma distr.fit <tspan font-size="12">ω</tspan><tspan dy="3.7" font-size="10.6">a</tspan><tspan dy="-3.7">=0.4</tspan></text>
<text x="246.30" y="171.8" text-anchor="middle">0</text>
<text x="269.38" y="171.8" text-anchor="middle">0.4</text>
<text x="292.46" y="171.8" text-anchor="middle">0.8</text>
<text x="315.54" y="171.8" text-anchor="middle">1.2</text>
<text x="338.62" y="171.8" text-anchor="middle">1.6</text>
<text x="361.70" y="171.8" text-anchor="middle">2</text>
<text x="236.7" y="158.40" text-anchor="end">0</text>
<text x="236.7" y="133.47" text-anchor="end">300</text>
<text x="236.7" y="108.53" text-anchor="end">600</text>
<text x="236.7" y="83.60" text-anchor="end">900</text>
<text x="300.8" y="93.7" text-anchor="end">data</text>
<text x="300.8" y="106.3" text-anchor="end">Exp. fit</text>
<text transform="translate(195.8,116.9) rotate(-90)" text-anchor="middle">σ</text>
<text x="295.6" y="190.6"><tspan font-size="12">ω</tspan><tspan dy="4.1" font-size="10.6">a</tspan></text>
</g>
</svg>
</body></html>
